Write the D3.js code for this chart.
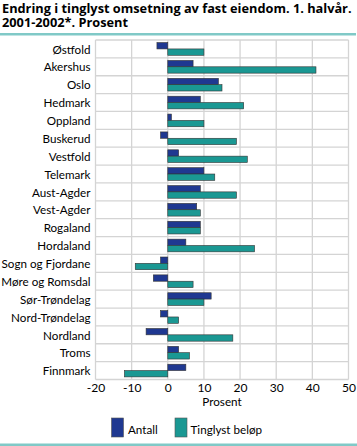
<!DOCTYPE html>
<html><head><meta charset="utf-8">
<script src="https://cdn.jsdelivr.net/npm/d3@7"></script>
<style>
html,body{margin:0;padding:0;background:#fff;}
svg{display:block;font-family:"Lato",sans-serif;}
</style></head>
<body>
<svg id="c" width="357" height="446"></svg>
<script>
const categories = ["Østfold","Akershus","Oslo","Hedmark","Oppland","Buskerud","Vestfold","Telemark","Aust-Agder","Vest-Agder","Rogaland","Hordaland","Sogn og Fjordane","Møre og Romsdal","Sør-Trøndelag","Nord-Trøndelag","Nordland","Troms","Finnmark"];
const antall = [-3, 7, 14, 9, 1, -2, 3, 10, 9, 8, 9, 5, -2, -4, 12, -2, -6, 3, 5];
const tinglyst = [10, 41, 15, 21, 10, 19, 22, 13, 19, 9, 9, 24, -9, 7, 10, 3, 18, 6, -12];
const seriesNames = ["Antall", "Tinglyst beløp"];
const seriesColors = ["#1f3891", "#1a9893"];
const xTicks = [-20, -10, 0, 10, 20, 30, 40, 50];
const titleLines = ["Endring i tinglyst omsetning av fast eiendom. 1. halvår.", "2001-2002*. Prosent"];
const xLabel = "Prosent";

const FONT = "Lato, sans-serif";
const TFONT = "'Open Sans', sans-serif";
const svg = d3.select("#c");
const m = {left: 95.5, right: 348.5, top: 40, bottom: 379.5};

function fitSize(text, family, weight, target) {
  const tmp = svg.append("text").attr("font-family", family).attr("font-weight", weight).attr("font-size", 20).text(text);
  const w = tmp.node().getComputedTextLength();
  tmp.remove();
  return 20 * target / w;
}
const titleSize = fitSize(titleLines[0], TFONT, "bold", 350);
const labelSize = Math.min(13, fitSize("Sogn og Fjordane", FONT, "normal", 89));

// title (one text element, two lines)
const title = svg.append("text").attr("font-family", TFONT).attr("font-weight", "bold")
  .attr("font-size", titleSize).attr("fill", "#000");
titleLines.forEach((s, i) => {
  title.append("tspan").attr("x", 2).attr("y", 13 + i * 14).text(s);
});
svg.append("rect").attr("x", 0).attr("y", 33).attr("width", 356).attr("height", 2.5).attr("fill", "#80c9c7");
svg.append("rect").attr("x", 0).attr("y", 443.5).attr("width", 357).attr("height", 2.5).attr("fill", "#80c9c7");

const x = d3.scaleLinear().domain([-20, 50]).range([m.left, m.right]);
const y = d3.scaleBand().domain(categories).range([m.top, m.bottom]).paddingInner(0.29).paddingOuter(0.145);
const y1 = d3.scaleBand().domain([0, 1]).range([0, y.bandwidth()]);

// grid
const g = svg.append("g");
xTicks.forEach(v => {
  g.append("line").attr("x1", x(v)).attr("x2", x(v)).attr("y1", m.top).attr("y2", m.bottom)
    .attr("stroke", "#d4d4d4").attr("stroke-width", 1.3);
});
for (let i = 0; i <= categories.length; i++) {
  const yy = m.top + i * (m.bottom - m.top) / categories.length;
  g.append("line").attr("x1", m.left).attr("x2", m.right).attr("y1", yy).attr("y2", yy)
    .attr("stroke", "#d4d4d4").attr("stroke-width", 1.3);
}

// bars
const data = categories.map((c, i) => ({c, v: [antall[i], tinglyst[i]]}));
const bars = svg.append("g");
data.forEach(d => {
  d.v.forEach((v, j) => {
    bars.append("rect")
      .attr("x", x(Math.min(0, v)))
      .attr("y", y(d.c) + y1(j))
      .attr("width", Math.abs(x(v) - x(0)))
      .attr("height", y1.bandwidth())
      .attr("fill", seriesColors[j])
      .attr("stroke", "#333").attr("stroke-width", 0.6);
  });
});

// y axis labels
const ya = svg.append("g").attr("transform", `translate(${m.left},0)`)
  .call(d3.axisLeft(y).tickSize(0).tickPadding(5));
ya.select(".domain").remove();
ya.selectAll("text").attr("font-size", labelSize).attr("font-family", FONT).attr("fill", "#000").attr("dy", "0.4em");

// x axis
const xa = svg.append("g").attr("transform", `translate(0,${m.bottom})`)
  .call(d3.axisBottom(x).tickValues(xTicks).tickFormat(d => String(d)).tickSize(0).tickPadding(4));
xa.select(".domain").remove();
xa.selectAll("text").attr("font-size", labelSize + 0.4).attr("font-family", FONT).attr("fill", "#000");

svg.append("text").attr("x", (m.left + m.right) / 2).attr("y", 406).attr("text-anchor", "middle")
  .attr("font-family", FONT).attr("font-size", labelSize).text(xLabel);

// legend
const leg = [{x: 111.5, tx: 128}, {x: 175, tx: 190.5}];
seriesNames.forEach((s, i) => {
  svg.append("rect").attr("x", leg[i].x).attr("y", 418).attr("width", 12).attr("height", 19)
    .attr("fill", seriesColors[i]).attr("stroke", "#555").attr("stroke-width", 0.6);
  svg.append("text").attr("x", leg[i].tx).attr("y", 434).attr("font-family", FONT).attr("font-size", labelSize).text(s);
});
</script>
</body></html>
